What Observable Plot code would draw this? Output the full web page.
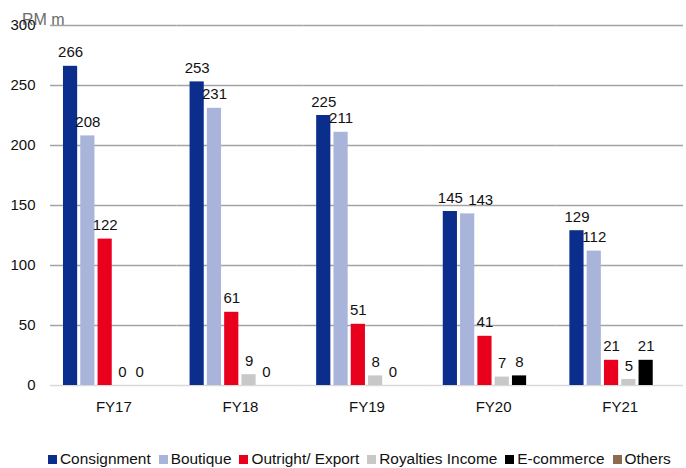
<!DOCTYPE html>
<html>
<head>
<meta charset="utf-8">
<script src="https://cdn.jsdelivr.net/npm/d3@7"></script>
<script src="https://cdn.jsdelivr.net/npm/@observablehq/plot@0.6"></script>
<style>
  html, body { margin: 0; padding: 0; background: #fff; }
  body { width: 686px; height: 468px; position: relative; overflow: hidden; font-family: "Liberation Sans", Arial, sans-serif; }
  #unit { position: absolute; left: 22px; top: 12px; font-size: 16px; line-height: 16px; color: #6b6b6b; z-index: 0; }
  #chart { position: absolute; left: 0; top: 0; z-index: 1; }
  #legend { position: absolute; left: 48px; top: 450px; display: flex; align-items: center; font-size: 15.4px; line-height: 18px; color: #111; white-space: nowrap; }
  .item { display: flex; align-items: center; margin-right: 8px; }
  .sw { width: 9px; height: 9px; margin-right: 3px; }
</style>
</head>
<body>
<div id="unit">RM m</div>
<div id="chart"></div>
<div id="legend"></div>
<script>
const years = ["FY17", "FY18", "FY19", "FY20", "FY21"];
const seriesNames = ["Consignment", "Boutique", "Outright/ Export", "Royalties Income", "E-commerce", "Others"];
const seriesColors = ["#0b2e8c", "#a8b4d9", "#e8001c", "#c8c8c8", "#000000", "#8c6b4f"];
const consignment = [266, 253, 225, 145, 129];
const boutique = [208, 231, 211, 143, 112];
const outrightExport = [122, 61, 51, 41, 21];
const royaltiesIncome = [0, 9, 8, 7, 5];
const eCommerce = [0, 0, 0, 8, 21];
const others = [null, null, null, null, null];
const yTicks = [0, 50, 100, 150, 200, 250, 300];

const seriesValues = [consignment, boutique, outrightExport, royaltiesIncome, eCommerce, others];
const data = [];
years.forEach((year, i) => {
  seriesNames.forEach((s, j) => {
    const v = seriesValues[j][i];
    if (v !== null && v !== undefined) data.push({year, series: s, value: v});
  });
});
// the one label the reference nudges sideways to avoid its neighbour
const isShifted = d => d.year === "FY20" && d.series === "Boutique";

const plot = Plot.plot({
  width: 686,
  height: 440,
  marginTop: 25,
  marginBottom: 55,
  marginLeft: 50,
  marginRight: 3,
  style: {fontFamily: "'Liberation Sans', Arial, sans-serif", fontSize: "15px", color: "#111", background: "transparent"},
  fx: {domain: years, paddingInner: 0, paddingOuter: 0, round: false, tickSize: 0, tickPadding: 16, label: null},
  x: {domain: seriesNames, paddingInner: 0.18, paddingOuter: 0.75, round: false, axis: null},
  y: {domain: [0, 300], ticks: yTicks, tickSize: 0, tickPadding: 15, label: null, tickFormat: d => d},
  color: {domain: seriesNames, range: seriesColors},
  marks: [
    Plot.ruleY(yTicks.filter(t => t > 0), {stroke: "#a3a3a3", strokeWidth: 1.5}),
    Plot.ruleY([0], {stroke: "#d9d9d9", strokeWidth: 1.5}),
    Plot.barY(data, {fx: "year", x: "series", y: "value", fill: "series"}),
    Plot.text(data.filter(d => !isShifted(d)), {fx: "year", x: "series", y: "value", text: d => String(d.value), lineAnchor: "bottom", dy: -9, fill: "#111", fontSize: 15}),
    Plot.text(data.filter(isShifted), {fx: "year", x: "series", y: "value", text: d => String(d.value), lineAnchor: "bottom", dy: -9, dx: 13, fill: "#111", fontSize: 15})
  ]
});
document.getElementById("chart").appendChild(plot);

const legend = document.getElementById("legend");
seriesNames.forEach((s, j) => {
  const item = document.createElement("div");
  item.className = "item";
  const sw = document.createElement("span");
  sw.className = "sw";
  sw.style.background = seriesColors[j];
  const label = document.createElement("span");
  label.textContent = s;
  item.appendChild(sw);
  item.appendChild(label);
  legend.appendChild(item);
});
</script>
</body>
</html>
